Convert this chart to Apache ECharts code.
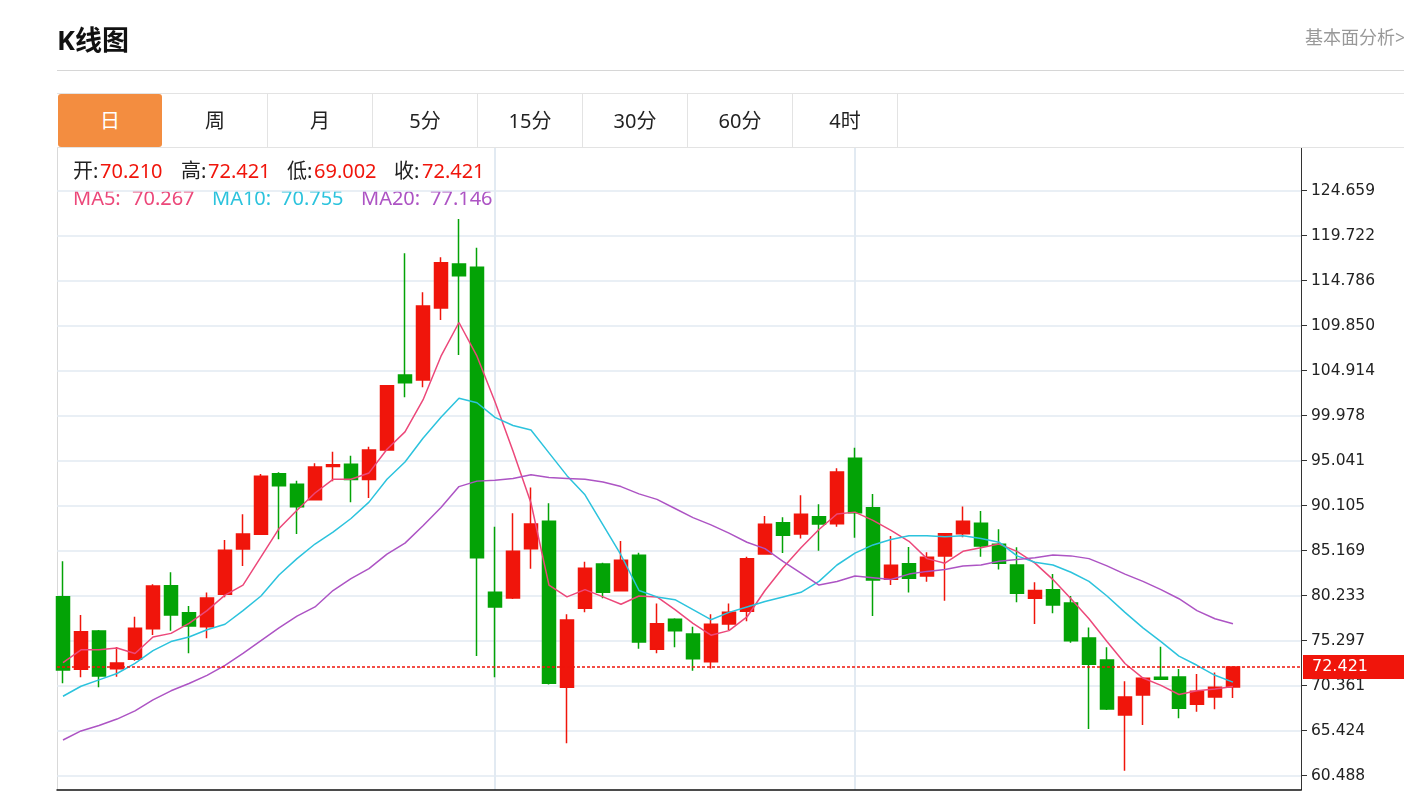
<!DOCTYPE html>
<html>
<head>
<meta charset="utf-8">
<script src="https://cdn.jsdelivr.net/npm/echarts@6/dist/echarts.min.js"></script>
<style>
html,body{margin:0;padding:0;width:1404px;height:792px;overflow:hidden;background:#fff;font-family:"Noto Sans","Noto Sans CJK SC",sans-serif;}
#chart{position:absolute;left:0;top:0;width:1404px;height:792px;}
.abs{position:absolute;white-space:nowrap;}
.tab{position:absolute;top:94px;height:53px;line-height:53px;text-align:center;font-size:20px;color:#222;border-right:1px solid #e3e3e3;box-sizing:border-box;}
.tab.on{background:#f38d40;color:#fff;border-radius:3px;border-right:none;}
</style>
</head>
<body>
<div id="chart"></div>
<div class="abs" style="left:57px;top:20px;font-size:27px;font-weight:bold;color:#111;line-height:40px;font-family:'Noto Sans','Noto Sans CJK SC',sans-serif;">K线图</div>
<div class="abs" style="left:1305px;top:24px;font-size:18px;color:#999;line-height:26px;">基本面分析&gt;</div>
<div class="abs" style="left:57px;top:70px;width:1347px;height:1px;background:#d6d6d6;"></div>
<div class="abs" style="left:57px;top:93px;width:1347px;height:1px;background:#e3e3e3;"></div>
<div class="abs" style="left:57px;top:147px;width:1347px;height:1px;background:#e3e3e3;"></div>
<div id="tabs"></div>
<script>
// ---- data ----
const tabLabels = ['日','周','月','5分','15分','30分','60分','4时'];
const yTicks = [60.488, 65.424, 70.361, 75.297, 80.233, 85.169, 90.105, 95.041, 99.978, 104.914, 109.850, 114.786, 119.722, 124.659];
const opens  = [80.13,72.16,76.36,72.23,73.25,76.62,81.33,78.37,76.84,80.38,85.36,86.96,93.62,92.45,90.77,94.40,94.64,92.99,96.21,104.44,103.89,111.79,116.62,116.25,80.60,79.98,85.39,88.39,70.18,78.85,83.71,80.78,84.66,74.35,77.64,76.03,72.99,77.13,78.52,84.81,88.24,87.00,88.90,88.13,95.30,89.89,82.03,83.75,82.39,84.59,87.04,88.17,85.87,83.60,79.94,80.89,79.43,75.59,73.18,67.15,69.34,71.28,71.31,68.32,69.12,70.210];
const closes = [72.08,76.29,71.42,72.85,76.65,81.30,78.12,76.91,79.98,85.21,87.00,93.33,92.30,90.00,94.36,94.60,92.99,96.21,103.27,103.60,112.01,116.76,115.34,84.40,78.99,85.10,88.10,70.62,77.57,83.23,80.60,84.11,75.15,77.16,76.40,73.32,77.09,78.41,84.29,88.06,86.85,89.16,88.10,93.80,89.34,81.95,83.56,82.14,84.44,87.04,88.39,85.68,83.78,80.49,80.79,79.21,75.30,72.70,67.80,69.12,71.17,71.06,67.88,69.74,70.18,72.421];
const lows   = [70.62,71.28,70.18,71.35,73.11,75.92,76.40,73.91,75.56,80.05,83.49,86.89,86.42,87.00,90.70,92.79,90.48,90.94,96.14,101.99,103.09,110.47,106.64,73.62,71.28,79.87,83.20,70.50,64.04,78.41,79.94,80.71,74.42,73.91,74.57,72.01,72.26,76.47,77.42,84.75,84.92,86.52,85.17,87.80,86.60,78.01,81.41,80.57,81.77,79.69,86.64,84.51,83.12,79.51,77.13,78.30,75.08,65.61,67.69,61.04,66.05,70.99,66.78,67.51,67.77,69.002];
const highs  = [84.00,78.12,76.47,74.60,77.93,81.48,82.80,79.10,80.57,86.34,89.16,93.58,93.77,92.85,94.77,96.01,95.59,96.58,103.35,117.79,113.51,117.35,121.55,118.41,87.80,89.27,92.10,90.36,78.19,83.97,83.86,86.23,84.95,79.39,77.75,76.83,78.19,79.39,84.51,88.97,88.83,91.24,90.25,94.20,96.47,91.39,86.78,85.57,84.99,87.07,90.03,89.52,87.51,85.54,81.70,82.61,80.20,76.74,74.57,70.84,71.20,74.64,72.19,71.64,71.82,72.421];
const ma5  = [72.9,74.3,74.3,74.5,73.9,75.7,76.1,77.2,78.6,80.3,81.4,84.5,87.6,89.6,91.5,93.0,93.0,93.7,96.3,98.2,101.7,106.5,110.2,106.5,101.5,96.1,90.4,81.4,80.1,80.9,80.1,79.3,80.2,80.1,78.7,77.2,75.9,76.4,77.9,80.8,83.3,85.5,87.5,89.2,89.4,88.5,87.4,86.2,84.3,83.8,85.1,85.5,85.9,85.1,83.8,82.0,79.9,77.7,75.2,72.8,71.2,70.4,69.4,69.8,70.0,70.267];
const ma10 = [69.2,70.3,71.0,71.7,72.8,74.2,75.2,75.7,76.5,77.1,78.6,80.2,82.5,84.3,85.9,87.2,88.7,90.5,93.0,94.9,97.5,99.8,101.9,101.4,99.8,98.9,98.4,95.9,93.4,91.3,88.0,84.7,80.8,80.1,79.8,78.7,77.6,78.4,79.0,79.6,80.1,80.6,81.8,83.6,84.9,85.8,86.4,86.8,86.8,86.7,86.8,86.5,86.1,84.6,83.9,83.6,82.8,81.8,80.2,78.4,76.7,75.2,73.6,72.6,71.5,70.755];
const ma20 = [64.4,65.4,66.0,66.7,67.6,68.8,69.8,70.6,71.5,72.6,73.9,75.3,76.7,78.0,79.0,80.8,82.1,83.2,84.8,86.0,87.9,89.9,92.2,92.8,92.9,93.1,93.5,93.2,93.1,93.0,92.7,92.2,91.4,90.8,89.8,88.8,88.0,87.1,86.1,85.4,84.0,82.7,81.4,81.8,82.4,82.2,82.0,82.6,82.9,83.1,83.5,83.6,84.0,84.2,84.4,84.7,84.6,84.3,83.5,82.6,81.8,80.9,79.9,78.6,77.7,77.146];
const splitDays = [24, 44];

// ---- tabs ----
const tabsEl = document.getElementById('tabs');
tabLabels.forEach((t, i) => {
  const d = document.createElement('div');
  d.className = 'tab' + (i === 0 ? ' on' : '');
  d.style.left = (58 + i * 105) + 'px';
  d.style.width = (i === 0 ? 104 : 105) + 'px';
  d.textContent = t;
  tabsEl.appendChild(d);
});

// ---- chart ----
const RED = '#f0150b', GREEN = '#03a306';
const C5 = '#ec487a', C10 = '#2cc3dd', C20 = '#ad54c4';
const last = closes.length - 1;
const candleData = opens.map((o, i) => [i, o, closes[i], lows[i], highs[i]]);
const toPts = arr => arr.map((v, i) => [i, v]);
const FONT = '"Noto Sans","Noto Sans CJK SC",sans-serif';

function txt(x, y, text, fill) {
  return {type: 'text', x: x, y: y, silent: true,
    style: {text: text, fill: fill, font: '20px ' + FONT, verticalAlign: 'middle', align: 'left'}};
}
const info = [
  txt(73, 172, '开:', '#222'), txt(100, 172, opens[last].toFixed(3), RED),
  txt(181, 172, '高:', '#222'), txt(208, 172, highs[last].toFixed(3), RED),
  txt(287, 172, '低:', '#222'), txt(314, 172, lows[last].toFixed(3), RED),
  txt(394, 172, '收:', '#222'), txt(422, 172, closes[last].toFixed(3), RED),
  txt(73, 199, 'MA5:', C5), txt(132, 199, ma5[last].toFixed(3), C5),
  txt(212, 199, 'MA10:', C10), txt(281, 199, ma10[last].toFixed(3), C10),
  txt(361, 199, 'MA20:', C20), txt(430, 199, ma20[last].toFixed(3), C20),
  {type: 'line', silent: true, shape: {x1: 57.5, y1: 148, x2: 57.5, y2: 790}, style: {stroke: '#d9d9d9', lineWidth: 1}}
];

const chart = echarts.init(document.getElementById('chart'));
chart.setOption({
  animation: false,
  backgroundColor: 'transparent',
  grid: {left: 57, right: 103, top: 148, bottom: 2, containLabel: false},
  xAxis: {
    type: 'value', min: -0.333, max: 68.78,
    axisLine: {show: true, onZero: false, lineStyle: {color: '#111', width: 1.5}},
    axisTick: {show: false, customValues: splitDays},
    axisLabel: {show: false, customValues: splitDays},
    splitLine: {show: true, lineStyle: {color: '#e2eaf2', width: 2}}
  },
  yAxis: {
    type: 'value', position: 'right', min: 58.92, max: 129.34, scale: true,
    axisLine: {show: true, onZero: false, lineStyle: {color: '#333', width: 1}},
    axisTick: {show: true, length: 6, customValues: yTicks, lineStyle: {color: '#333'}},
    axisLabel: {show: true, customValues: yTicks, formatter: v => Number(v).toFixed(3), color: '#222', fontSize: 15.5, fontFamily: 'DejaVu Sans', margin: 10},
    splitLine: {show: true, lineStyle: {color: '#e2eaf2', width: 1.5}}
  },
  graphic: info,
  series: [
    {
      type: 'candlestick', data: candleData, encode: {x: 0, y: [1, 2, 3, 4]},
      barWidth: 13,
      itemStyle: {color: RED, color0: GREEN, borderColor: RED, borderColor0: GREEN, borderWidth: 1.5},
      z: 3,
      markLine: {
        silent: true, symbol: ['none', 'none'], animation: false,
        lineStyle: {color: RED, type: [3, 2], width: 1.5},
        label: {show: true, position: 'end', distance: 2, formatter: () => closes[last].toFixed(3),
          color: '#fff', backgroundColor: RED, fontSize: 16, fontFamily: 'DejaVu Sans', padding: [4, 40, 4, 9], align: 'left'},
        data: [{yAxis: closes[last]}]
      }
    },
    {type: 'line', data: toPts(ma5), symbol: 'none', silent: true, z: 4, lineStyle: {color: C5, width: 1.5}},
    {type: 'line', data: toPts(ma10), symbol: 'none', silent: true, z: 4, lineStyle: {color: C10, width: 1.5}},
    {type: 'line', data: toPts(ma20), symbol: 'none', silent: true, z: 4, lineStyle: {color: C20, width: 1.5}}
  ]
});
</script>
</body>
</html>
